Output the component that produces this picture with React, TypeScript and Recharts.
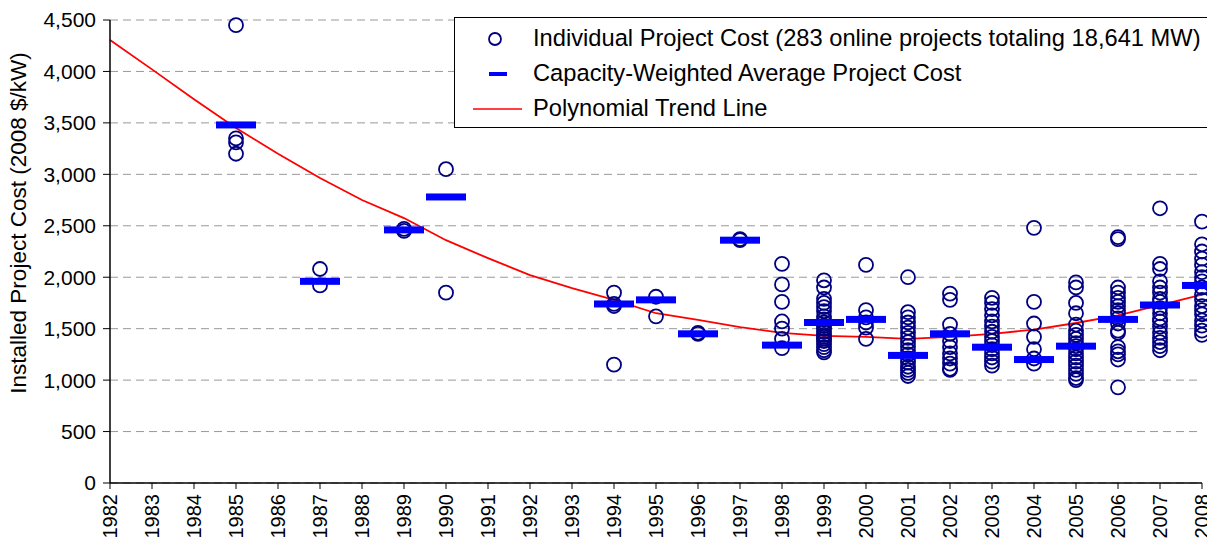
import {
  ComposedChart,
  Scatter,
  Line,
  XAxis,
  YAxis,
  CartesianGrid,
} from "recharts";

const yearTicks = [
  1982, 1983, 1984, 1985, 1986, 1987, 1988, 1989, 1990, 1991, 1992, 1993, 1994,
  1995, 1996, 1997, 1998, 1999, 2000, 2001, 2002, 2003, 2004, 2005, 2006, 2007,
  2008,
];
const costTicks = [0, 500, 1000, 1500, 2000, 2500, 3000, 3500, 4000, 4500];

// individual project costs, grouped by year
const projectYears = [
  1985, 1987, 1989, 1990, 1994, 1995, 1996, 1997, 1998, 1999, 2000, 2001, 2002,
  2003, 2004, 2005, 2006, 2007, 2008,
];
const projectCosts = [
  [4450, 3350, 3310, 3200],
  [2080, 1920],
  [2470, 2450],
  [3050, 1850],
  [1850, 1740, 1720, 1150],
  [1810, 1620],
  [1460, 1450],
  [2370, 2360],
  [2130, 1930, 1760, 1570, 1500, 1400, 1310],
  [1970, 1900, 1790, 1750, 1710, 1670, 1620, 1590, 1560, 1530, 1500, 1470, 1440, 1420, 1400, 1380, 1350, 1320, 1290, 1270],
  [2120, 1680, 1610, 1560, 1510, 1400],
  [2000, 1660, 1610, 1560, 1510, 1460, 1410, 1370, 1330, 1290, 1250, 1210, 1170, 1130, 1100, 1070, 1040],
  [1840, 1780, 1540, 1450, 1380, 1320, 1260, 1210, 1160, 1110, 1100],
  [1800, 1750, 1690, 1630, 1570, 1520, 1470, 1420, 1380, 1340, 1300, 1260, 1220, 1180, 1140],
  [2480, 1760, 1550, 1420, 1300, 1210, 1160],
  [1950, 1900, 1750, 1650, 1540, 1480, 1440, 1400, 1360, 1330, 1300, 1260, 1220, 1180, 1140, 1100, 1060, 1020, 1000],
  [2390, 2370, 1900, 1850, 1800, 1760, 1720, 1680, 1650, 1600, 1550, 1480, 1460, 1320, 1280, 1250, 1200, 930],
  [2670, 2130, 2080, 1960, 1900, 1850, 1790, 1760, 1700, 1650, 1600, 1570, 1520, 1460, 1410, 1370, 1330, 1290],
  [2540, 2320, 2250, 2180, 2120, 2050, 2000, 1960, 1900, 1830, 1780, 1720, 1680, 1640, 1580, 1530, 1480, 1440],
];

// capacity-weighted average per year
const averageCosts = [
  3480, 1960, 2460, 2780, 1740, 1780, 1450, 2360, 1340, 1560, 1590, 1240, 1450,
  1320, 1200, 1330, 1590, 1730, 1920,
];

// polynomial trend, one value per year 1982..2008
const trendCosts = [
  4305, 4020, 3730, 3450, 3200, 2965, 2750, 2575, 2360, 2185, 2020, 1895, 1780,
  1650, 1585, 1515, 1460, 1430, 1420, 1400, 1420, 1450, 1490, 1555, 1630, 1730,
  1830,
];

const legendLabels = [
  "Individual Project Cost (283 online projects totaling 18,641 MW)",
  "Capacity-Weighted Average Project Cost",
  "Polynomial Trend Line",
];

const projectData = projectYears.flatMap((year, i) =>
  projectCosts[i].map((cost) => ({ year, cost }))
);
const averageData = projectYears.map((year, i) => ({
  year,
  cost: averageCosts[i],
}));
const trendData = yearTicks.map((year, i) => ({ year, cost: trendCosts[i] }));

const FONT = "'Liberation Sans', Arial, sans-serif";

const Circle = (props: any) => (
  <circle
    cx={props.cx}
    cy={props.cy}
    r={7}
    fill="none"
    stroke="#000080"
    strokeWidth={1.8}
  />
);

const Dash = (props: any) => (
  <rect x={props.cx - 20} y={props.cy - 3.5} width={40} height={7} fill="#0000FF" />
);

const YearTick = (props: any) => {
  const { x, y, payload } = props;
  return (
    <text
      x={x}
      y={y}
      transform={`rotate(-90 ${x} ${y})`}
      textAnchor="end"
      dominantBaseline="central"
      fontSize={20}
      fontFamily={FONT}
      fill="#000"
    >
      {payload.value}
    </text>
  );
};

const legendMarkers = [
  <circle cx={40} cy={10} r={6} fill="none" stroke="#000080" strokeWidth={1.8} />,
  <rect x={34} y={8} width={18} height={4} fill="#0000FF" />,
  <line x1={18} y1={10} x2={67} y2={10} stroke="#FF0000" strokeWidth={1.5} />,
];

const LegendBox = () => (
  <div
    style={{
      position: "absolute",
      left: 454,
      top: 17,
      width: 780,
      height: 111,
      border: "1px solid #000",
      background: "#fff",
      fontFamily: FONT,
      fontSize: 23.7,
      color: "#000",
      boxSizing: "border-box",
      paddingTop: 3,
    }}
  >
    {legendLabels.map((label, i) => (
      <div
        key={label}
        style={{ display: "flex", alignItems: "center", height: 35 }}
      >
        <svg width={78} height={20} style={{ flex: "none" }}>
          {legendMarkers[i]}
        </svg>
        <span style={{ whiteSpace: "nowrap" }}>{label}</span>
      </div>
    ))}
  </div>
);

export default function App() {
  return (
    <div
      style={{
        position: "absolute",
        left: 0,
        top: 0,
        width: 1207,
        height: 544,
        overflow: "hidden",
        background: "#fff",
      }}
    >
      <ComposedChart
        width={1240}
        height={544}
        margin={{ top: 20, right: 38, bottom: 0, left: 0 }}
      >
        <CartesianGrid vertical={false} stroke="#999" strokeDasharray="8 5" />
        <XAxis
          dataKey="year"
          type="number"
          domain={[1982, 2008]}
          ticks={yearTicks}
          interval={0}
          height={61}
          axisLine={{ stroke: "#000", strokeWidth: 1.5 }}
          tickLine={{ stroke: "#000" }}
          tickSize={6}
          tickMargin={5}
          tick={<YearTick />}
        />
        <YAxis
          dataKey="cost"
          type="number"
          domain={[0, 4500]}
          ticks={costTicks}
          interval={0}
          width={110}
          axisLine={{ stroke: "#000", strokeWidth: 1.5 }}
          tickLine={{ stroke: "#000" }}
          tickSize={7}
          tickMargin={7}
          tick={{ fontSize: 21, fontFamily: FONT, fill: "#000" }}
          tickFormatter={(v: number) => v.toLocaleString("en-US")}
          label={{
            content: () => (
              <text
                x={18}
                y={223}
                transform="rotate(-90 18 223)"
                textAnchor="middle"
                dominantBaseline="central"
                fontSize={22.5}
                fontFamily={FONT}
                fill="#000"
              >
                Installed Project Cost (2008 $/kW)
              </text>
            ),
          }}
        />
        <Scatter
          name="Individual Project Cost"
          data={projectData}
          shape={<Circle />}
          isAnimationActive={false}
        />
        <Scatter
          name="Capacity-Weighted Average Project Cost"
          data={averageData}
          shape={<Dash />}
          isAnimationActive={false}
        />
        <Line
          name="Polynomial Trend Line"
          data={trendData}
          dataKey="cost"
          type="linear"
          stroke="#FF0000"
          strokeWidth={1.8}
          dot={false}
          activeDot={false}
          isAnimationActive={false}
        />
      </ComposedChart>
      <LegendBox />
    </div>
  );
}
